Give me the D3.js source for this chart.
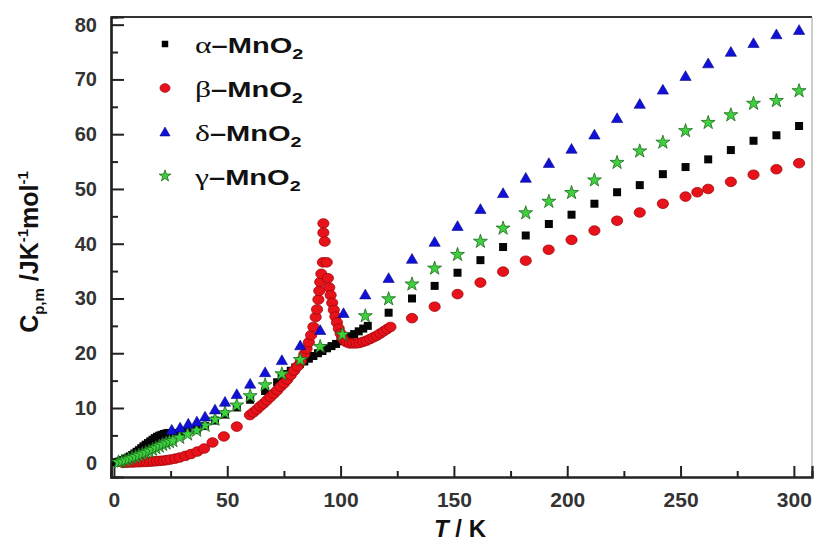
<!DOCTYPE html>
<html><head><meta charset="utf-8">
<script src="https://cdn.jsdelivr.net/npm/d3@7"></script>
<style>body{margin:0;background:#fff}svg{display:block}</style>
</head><body><svg id="c" width="814" height="544"></svg>
<script>
// ---- data (T in K, Cp in J K^-1 mol^-1) ----
const alphaT = [1,2,3,4,5,6,7,8,9,10,11,12,13,14,15,16,17,18,19,20,21,22,23,24,26,29,32.5,36.5,40.2,44.6,49,54.2,60.1,66.7,72,74,76,78,80,82,84,86,88,90,92,94,96,98,100,102,104,106,108,110,112,121.2,131.5,141.5,151.6,161.7,171.7,181.7,191.9,201.9,212,222,232,242.2,252.2,262.2,272.2,282.2,292.3,302.3];
const alphaCp = [0.1,0.2,0.35,0.5,0.7,0.9,1.15,1.4,1.7,2.0,2.3,2.65,3.0,3.3,3.6,3.9,4.2,4.5,4.75,4.95,5.1,5.25,5.35,5.45,5.4,5.5,5.7,6.0,6.7,7.7,8.8,10.1,11.5,13.1,14.7,15.6,16.2,16.8,17.4,18.0,18.5,19.0,19.5,20.0,20.4,20.9,21.3,21.7,22.2,22.6,23.1,23.5,24.0,24.5,25.0,27.4,30.0,32.3,34.7,37.0,39.4,41.5,43.6,45.3,47.3,49.4,50.7,52.7,54.0,55.4,57.1,58.8,59.8,61.5];

const betaT = [4,5.5,7,8.5,10,11.5,13,14.5,16,17.5,19,20.5,22,23.5,25,27,29,31.5,34,36.8,39.8,43.5,48.5,54.2,60,61.5,63,64.5,66,67.5,69,70.5,72,73.5,75,76.5,78,79.5,81,82.5,84,85,86,87,88,89,89.6,90.2,90.6,91,91.5,92.2,92.4,92.4,93.0,93.9,94.4,95,95.6,96.3,97,97.7,98.4,99.2,100,100.8,101.7,102.7,104,105.5,107,108.5,110,111.5,113,114.5,116,117.5,119,120.5,122,131.5,141.5,151.6,161.7,171.7,181.7,191.8,201.9,212,222,232,242.2,252.2,257.4,262.2,272.2,282.2,292.3,302.3];
const betaCp = [0,0,0.05,0.05,0.1,0.1,0.15,0.15,0.2,0.25,0.3,0.35,0.4,0.5,0.6,0.75,0.95,1.25,1.6,2.05,2.6,3.7,4.8,6.6,8.7,9.2,9.7,10.3,10.8,11.4,12.0,12.6,13.2,13.9,14.5,15.2,16.0,16.8,17.6,18.6,19.8,20.8,22.0,23.3,24.8,26.6,28.0,29.8,31.4,33.0,34.5,36.6,43.7,42.0,40.4,36.6,33.7,32.0,30.6,29.2,27.9,26.7,25.6,24.5,23.6,22.8,22.3,22.0,21.8,21.8,21.8,21.9,22.1,22.3,22.6,22.9,23.2,23.6,24.0,24.4,24.8,26.4,28.5,30.8,32.9,34.9,36.9,38.9,40.7,42.4,44.2,45.7,47.3,48.6,49.4,50.0,51.3,52.6,53.6,54.7];

const deltaT = [25.5,29.2,32.8,36.6,40.2,44.6,49.0,54.2,60.1,66.7,74.1,82.2,91.0,101.3,110.9,121.2,131.5,141.5,151.6,161.7,171.7,181.7,191.9,201.9,212.0,222.0,232.0,242.2,252.2,262.2,272.2,282.2,292.3,302.3];
const deltaCp = [6.0,6.4,7.1,7.5,8.4,9.7,11.1,12.5,14.4,16.5,18.7,21.4,24.2,27.3,30.7,33.7,37.2,40.3,43.2,46.3,49.2,52.0,54.7,57.3,59.9,62.9,65.5,68.1,70.6,72.9,75.0,76.6,78.2,79.0];

const gammaT = [2,3.5,5,6.5,8,9.5,11,12.5,14,15.5,17,18.5,20,21.5,23,24.5,26,29,32.5,36.5,40.2,44.6,49.0,54.2,60.1,66.7,74.1,82.2,91.0,100.8,110.9,121.2,131.5,141.5,151.6,161.7,171.7,181.7,191.9,201.9,212.0,222.0,232.0,242.2,252.2,262.2,272.2,282.2,292.3,302.3];
const gammaCp = [0.1,0.25,0.45,0.65,0.9,1.1,1.35,1.6,1.85,2.1,2.4,2.7,3.0,3.3,3.55,3.8,4.0,4.6,5.2,5.9,6.8,7.9,9.1,10.5,12.2,14.2,16.2,18.8,21.2,23.4,26.8,29.9,32.6,35.5,38.0,40.4,42.8,45.6,47.7,49.3,51.6,54.8,56.9,58.5,60.6,62.1,63.5,65.6,66.1,67.9];

const xMajor = [0,50,100,150,200,250,300];
const xMinor = [25,75,125,175,225,275];
const yMajor = [0,10,20,30,40,50,60,70,80];
const yMinor = [5,15,25,35,45,55,65,75];

const legendGreek = ["α","β","δ","γ"];
const legendText = "–MnO";

// ---- layout ----
const svg = d3.select("#c");
const L = 111, R = 812, T = 17, B = 477;
const x = d3.scaleLinear().domain([-1.3, 308]).range([L, R]);
const y = d3.scaleLinear().domain([-2.6, 81.4]).range([B, T]);

svg.append("rect").attr("width",814).attr("height",544).attr("fill","#fff");

const tickFont = "'Liberation Sans', Arial, sans-serif";

// frame
svg.append("line").attr("x1",L).attr("x2",R).attr("y1",T).attr("y2",T).attr("stroke","#333").attr("stroke-width",2);
svg.append("line").attr("x1",R).attr("x2",R).attr("y1",T).attr("y2",B).attr("stroke","#999").attr("stroke-width",1);

// axes
const gx = svg.append("g").attr("transform",`translate(0,${B})`)
  .call(d3.axisBottom(x).tickValues(xMajor).tickSize(-11).tickPadding(15).tickFormat(d3.format("d")));
const gx2 = svg.append("g").attr("transform",`translate(0,${B})`)
  .call(d3.axisBottom(x).tickValues(xMinor).tickSize(-6).tickFormat(""));
const gy = svg.append("g").attr("transform",`translate(${L},0)`)
  .call(d3.axisLeft(y).tickValues(yMajor).tickSize(-13).tickPadding(14).tickFormat(d3.format("d")));
const gy2 = svg.append("g").attr("transform",`translate(${L},0)`)
  .call(d3.axisLeft(y).tickValues(yMinor).tickSize(-7).tickFormat(""));
[gx,gx2,gy,gy2].forEach(g=>{
  g.select(".domain").attr("stroke","#222").attr("stroke-width",2.2);
  g.selectAll(".tick line").attr("stroke","#222").attr("stroke-width",2);
});
gx.selectAll(".tick text").attr("font-family",tickFont).attr("font-weight","bold")
  .attr("font-size",21).attr("fill","#333");
gy.selectAll(".tick text").attr("font-family",tickFont).attr("font-weight","bold")
  .attr("font-size",20).attr("fill","#333");

// markers
const plot = svg.append("g");
const sq = d3.symbol().type(d3.symbolSquare).size(64);
const tri = d3.symbol().type(d3.symbolTriangle).size(55);
const star = d3.symbol().type(d3.symbolStar).size(60);

const alphaData = alphaT.map((t,i)=>[t,alphaCp[i]]);
const betaData = betaT.map((t,i)=>[t,betaCp[i]]);
const deltaData = deltaT.map((t,i)=>[t,deltaCp[i]]);
const gammaData = gammaT.map((t,i)=>[t,gammaCp[i]]);

plot.append("g").selectAll("path").data(alphaData).join("path")
  .attr("d",sq).attr("transform",d=>`translate(${x(d[0])},${y(d[1])})`).attr("fill","#050505");
plot.append("g").selectAll("ellipse").data(betaData).join("ellipse")
  .attr("cx",d=>x(d[0])).attr("cy",d=>y(d[1])).attr("rx",5.6).attr("ry",4.8)
  .attr("fill","#e8121a").attr("stroke","#a0060a").attr("stroke-width",0.8);
plot.append("g").selectAll("path").data(gammaData).join("path")
  .attr("d",star).attr("transform",d=>`translate(${x(d[0])},${y(d[1])})`)
  .attr("fill","#3fd03f").attr("stroke","#1a6a1a").attr("stroke-width",0.8);
plot.append("g").selectAll("path").data(deltaData).join("path")
  .attr("d",tri).attr("transform",d=>`translate(${x(d[0])},${y(d[1])+1})`)
  .attr("fill","#1010d8").attr("stroke","#0a0a80").attr("stroke-width",0.6);

// legend
const leg = svg.append("g");
const rows = [
  {g:legendGreek[0], kind:"sq"},
  {g:legendGreek[1], kind:"ci"},
  {g:legendGreek[2], kind:"tri"},
  {g:legendGreek[3], kind:"star"}
];
rows.forEach((r,i)=>{
  const cy = 44 + i*44;
  if(r.kind==="sq") leg.append("path").attr("d",d3.symbol().type(d3.symbolSquare).size(42)()).attr("transform",`translate(165,${cy})`).attr("fill","#000");
  if(r.kind==="ci") leg.append("ellipse").attr("cx",165).attr("cy",cy).attr("rx",5).attr("ry",4.3).attr("fill","#e8121a").attr("stroke","#a0060a").attr("stroke-width",0.8);
  if(r.kind==="tri") leg.append("path").attr("d",d3.symbol().type(d3.symbolTriangle).size(45)()).attr("transform",`translate(165,${cy+1})`).attr("fill","#1010d8").attr("stroke","#0a0a80").attr("stroke-width",0.6);
  if(r.kind==="star") leg.append("path").attr("d",d3.symbol().type(d3.symbolStar).size(42)()).attr("transform",`translate(165,${cy})`).attr("fill","#3fd03f").attr("stroke","#1a6a1a").attr("stroke-width",0.8);
  const t = leg.append("text").attr("transform",`translate(195,${cy+9}) scale(1.32,1)`)
    .attr("font-family",tickFont).attr("font-size",22).attr("fill","#111");
  t.append("tspan").attr("font-family","'Liberation Serif', 'Times New Roman', serif").attr("font-weight","normal").attr("font-size",24).text(r.g);
  t.append("tspan").attr("font-weight","bold").text(legendText);
  t.append("tspan").attr("font-weight","bold").attr("font-size",15).attr("dy",6).text("2");
});

// axis titles
const xt = svg.append("text").attr("x",460).attr("y",537).attr("text-anchor","middle")
  .attr("font-family",tickFont).attr("font-weight","bold").attr("font-size",24).attr("fill","#111");
xt.append("tspan").attr("font-style","italic").text("T");
xt.append("tspan").text(" / K");

const yt = svg.append("text").attr("transform","translate(38,252) rotate(-90)").attr("text-anchor","middle")
  .attr("font-family",tickFont).attr("font-weight","bold").attr("font-size",25).attr("fill","#111");
yt.append("tspan").text("C");
yt.append("tspan").attr("font-size",15).attr("dy",6).text("p,m");
yt.append("tspan").attr("dy",-6).text(" /JK");
yt.append("tspan").attr("font-size",15).attr("dy",-10).text("-1");
yt.append("tspan").attr("dy",10).text("mol");
yt.append("tspan").attr("font-size",15).attr("dy",-10).text("-1");
</script>
</body></html>
